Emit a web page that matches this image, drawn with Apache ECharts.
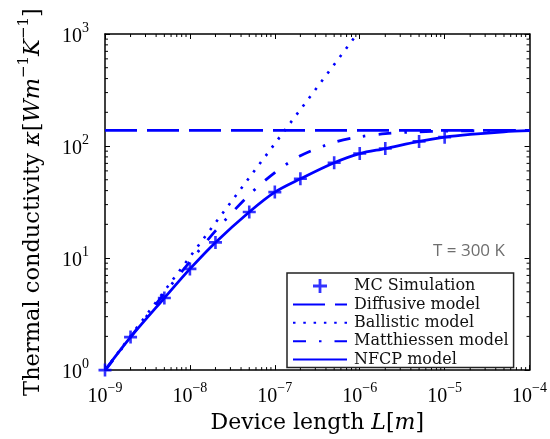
<!DOCTYPE html>
<html><head><meta charset="utf-8">
<script src="https://cdn.jsdelivr.net/npm/echarts@6/dist/echarts.min.js"></script>
<style>html,body{margin:0;padding:0;background:#fff}#c{width:550px;height:439px}</style>
</head><body><div id="c"></div>
<script>
// ---- data ----
const xTickExps = [-9, -8, -7, -6, -5, -4];
const yTickExps = [0, 1, 2, 3];
const mcL = [1e-9, 2e-9, 5e-9, 1e-8, 2e-8, 5e-8, 1e-7, 2e-7, 5e-7, 1e-6, 2e-6, 5e-6, 1e-5];
const mcK = [1.0, 1.97, 4.4, 8.0, 13.8, 25.8, 38.8, 51, 71, 85.7, 95, 110, 120];
const nfcpL = [1e-9, 2e-9, 5e-9, 1e-8, 2e-8, 5e-8, 1e-7, 2e-7, 5e-7, 1e-6, 2e-6, 5e-6, 1e-5, 2e-5, 5e-5, 1e-4];
const nfcpK = [1.0, 1.97, 4.4, 8.0, 13.8, 25.8, 38.8, 51, 71, 85.7, 95, 110, 120, 127, 134, 137];
const diffL = [1e-9, 1e-4];
const diffK = [138, 138];
const ballL = [1e-9, 9.3e-7];
const ballK = [1, 1000];
const mattL = [1e-9, 2e-9, 5e-9, 1e-8, 2e-8, 5e-8, 1e-7, 2e-7, 5e-7, 1e-6, 2e-6, 5e-6, 1e-5, 1e-4];
const mattK = [0.99, 1.97, 4.83, 9.3, 17.5, 36.7, 58, 81.7, 108, 121, 129, 134, 136, 138];
const legendNames = ['MC Simulation', 'Diffusive model', 'Ballistic model', 'Matthiessen model', 'NFCP model'];

// minor tick positions (2..9 within each decade)
const xMinor = [], yMinor = [];
for (let e = -9; e < -4; e++) for (let m = 2; m <= 9; m++) xMinor.push(m * Math.pow(10, e));
for (let e = 0; e < 3; e++) for (let m = 2; m <= 9; m++) yMinor.push(m * Math.pow(10, e));

const BLUE = '#0000ff';
const PLUS = 'path://M-1.3,-6.5L1.3,-6.5L1.3,-1.3L6.5,-1.3L6.5,1.3L1.3,1.3L1.3,6.5L-1.3,6.5L-1.3,1.3L-6.5,1.3L-6.5,-1.3L-1.3,-1.3Z';
const zip = (a, b) => a.map((v, i) => [v, b[i]]);
const sup = e => e < 0 ? '\u2212' + (-e) : String(e);
const tickRich = {
  b: {fontFamily: 'Liberation Serif', fontSize: 20, lineHeight: 26, verticalAlign: 'bottom', color: '#000'},
  s: {fontFamily: 'Liberation Serif', fontSize: 14, lineHeight: 16, verticalAlign: 'top', color: '#000'}
};
const fmt = exps => v => {
  const e = Math.round(Math.log10(v));
  return exps.includes(e) ? '{b|10}{s|' + sup(e) + '}' : '';
};
const axisLine = {show: true, lineStyle: {color: '#000', width: 1.5}};
const axisTick = {show: true, inside: true, length: 5, lineStyle: {color: '#000', width: 1}};

function minorX(params, api) {
  const v = api.value(0);
  const pb = api.coord([v, 1]), pt = api.coord([v, 1000]);
  return {type: 'group', children: [
    {type: 'line', shape: {x1: pb[0], y1: pb[1], x2: pb[0], y2: pb[1] - 3}, style: {stroke: '#000', lineWidth: 1}},
    {type: 'line', shape: {x1: pt[0], y1: pt[1], x2: pt[0], y2: pt[1] + 3}, style: {stroke: '#000', lineWidth: 1}}
  ]};
}
function minorY(params, api) {
  const v = api.value(1);
  const pl = api.coord([1e-9, v]), pr = api.coord([1e-4, v]);
  return {type: 'group', children: [
    {type: 'line', shape: {x1: pl[0], y1: pl[1], x2: pl[0] + 3, y2: pl[1]}, style: {stroke: '#000', lineWidth: 1}},
    {type: 'line', shape: {x1: pr[0], y1: pr[1], x2: pr[0] - 3, y2: pr[1]}, style: {stroke: '#000', lineWidth: 1}}
  ]};
}

const noSym = {opacity: 0, color: 'rgba(0,0,0,0)', borderWidth: 0};

const chart = echarts.init(document.getElementById('c'), null, {renderer: 'canvas'});
chart.setOption({
  animation: false,
  backgroundColor: '#fff',
  title: {
    text: 'T = 300 K', left: 428, top: 238,
    textStyle: {fontFamily: 'Open Sans', fontSize: 17, fontWeight: 'normal', color: '#6e6e6e'}
  },
  grid: {left: 105, top: 34, right: 18, bottom: 65},
  xAxis: [{
    type: 'log', logBase: 10, min: 1e-9, max: 1e-4, position: 'bottom',
    axisLine, axisTick, splitLine: {show: false},
    axisLabel: {formatter: fmt(xTickExps), rich: tickRich, margin: 11},
    name: '{n|Device length }{i|L}{n|[}{i|m}{n|]}',
    nameLocation: 'middle', nameGap: 29,
    nameTextStyle: {rich: {
      n: {fontFamily: 'DejaVu Serif', fontSize: 22, color: '#000', lineHeight: 26},
      i: {fontFamily: 'DejaVu Serif', fontStyle: 'italic', fontSize: 22, color: '#000', lineHeight: 26}
    }}
  }, {
    type: 'log', logBase: 10, min: 1e-9, max: 1e-4, position: 'top',
    axisLine, axisTick, splitLine: {show: false}, axisLabel: {show: false}
  }],
  yAxis: [{
    type: 'log', logBase: 10, min: 1, max: 1000, position: 'left',
    axisLine, axisTick, splitLine: {show: false},
    axisLabel: {formatter: fmt(yTickExps), rich: tickRich, margin: 43, align: 'left'},
    name: '{n|Thermal conductivity }{i|\u03ba}{n|[}{i|Wm}{s|\u22121}{i|K}{s|\u22121}{n|]}',
    nameLocation: 'middle', nameGap: 60, nameRotate: 90,
    nameTextStyle: {rich: {
      n: {fontFamily: 'DejaVu Serif', fontSize: 22.5, color: '#000', lineHeight: 28, verticalAlign: 'bottom'},
      i: {fontFamily: 'DejaVu Serif', fontStyle: 'italic', fontSize: 22.5, color: '#000', lineHeight: 28, verticalAlign: 'bottom'},
      s: {fontFamily: 'DejaVu Serif', fontSize: 15, color: '#000', lineHeight: 17, verticalAlign: 'top'}
    }}
  }, {
    type: 'log', logBase: 10, min: 1, max: 1000, position: 'right',
    axisLine, axisTick, splitLine: {show: false}, axisLabel: {show: false}
  }],
  legend: {
    orient: 'vertical', left: 287, top: 273, padding: [5, 5, 0, 5],
    itemWidth: 54, itemHeight: 14, itemGap: 2.4,
    backgroundColor: '#fff', borderColor: '#222', borderWidth: 1.5, borderRadius: 0,
    textStyle: {fontFamily: 'DejaVu Serif', fontSize: 16, color: '#111', padding: [0, 0, 0, 2]},
    data: [
      {name: legendNames[0], icon: PLUS},
      {name: legendNames[1], itemStyle: noSym},
      {name: legendNames[2], itemStyle: noSym},
      {name: legendNames[3], itemStyle: noSym},
      {name: legendNames[4], itemStyle: noSym}
    ]
  },
  series: [
    {type: 'custom', silent: true, data: xMinor.map(v => [v, 1]), renderItem: minorX, z: 1},
    {type: 'custom', silent: true, data: yMinor.map(v => [1e-9, v]), renderItem: minorY, z: 1},
    {name: legendNames[1], type: 'line', data: zip(diffL, diffK), symbol: 'none', color: BLUE,
     lineStyle: {color: BLUE, width: 2.8, type: [32, 10], cap: 'butt'}},
    {name: legendNames[2], type: 'line', data: zip(ballL, ballK), symbol: 'none', color: BLUE,
     lineStyle: {color: BLUE, width: 2.6, type: [2.5, 7.8], cap: 'butt'}},
    {name: legendNames[3], type: 'line', data: zip(mattL, mattK), symbol: 'none', color: BLUE, smooth: 0.3,
     lineStyle: {color: BLUE, width: 2.8, type: [13, 13, 2.5, 13], cap: 'butt'}},
    {name: legendNames[4], type: 'line', data: zip(nfcpL, nfcpK), symbol: 'none', color: BLUE, smooth: 0.3,
     lineStyle: {color: BLUE, width: 2.8}},
    {name: legendNames[0], type: 'scatter', data: zip(mcL, mcK), symbol: PLUS, symbolSize: 13, color: BLUE,
     itemStyle: {color: BLUE}, z: 5}
  ]
});
</script>
</body></html>
